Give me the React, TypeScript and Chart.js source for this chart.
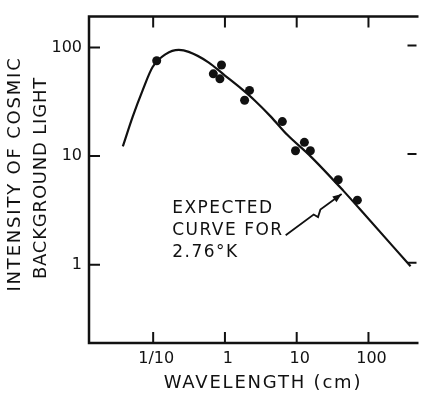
import React, { useEffect, useRef } from "react";
import { Chart, registerables } from "chart.js";

Chart.register(...registerables);

// Expected 2.76 K curve
const curveX = [0.0378, 0.0519, 0.0713, 0.0978, 0.15, 0.228, 0.313, 0.589, 1.0, 1.69, 2.58, 4.36, 7.39, 15.5, 44.5, 75.2, 386];
const curveY = [12.3, 23.1, 40.3, 65.8, 87, 95, 91.2, 73.1, 55.2, 41.8, 32.7, 23.1, 15.7, 10.0, 4.81, 3.27, 0.966];

// Measured points
const obsX = [0.112, 0.895, 0.689, 0.851, 2.2, 1.88, 6.31, 9.62, 12.8, 15.5, 37.9, 70];
const obsY = [75.5, 69, 57.2, 51.5, 40.3, 32.7, 20.8, 11.2, 13.4, 11.2, 6.05, 3.93];

const xTickValues = [0.1, 1, 10, 100];
const xTickLabels = ["1/10", "1", "10", "100"];
const yTickValues = [1, 10, 100];
const yTickLabels = ["1", "10", "100"];

const xMin = 0.01276;
const xMax = 467;
const yMin = 0.19;
const yMax = 192.7;

const xTitle = "WAVELENGTH (cm)";
const yTitleLines = ["INTENSITY OF COSMIC", "BACKGROUND LIGHT"];
const noteLines = ["EXPECTED", "CURVE FOR", "2.76°K"];
const noteAnchor = { x: 0.184, y: 3.0 };
const arrowFrom = { x: 7.02, y: 1.87 };
const arrowTo = { x: 42.3, y: 4.48 };

const INK = "#111";
const FONT = "'DejaVu Sans', sans-serif";

const decorPlugin = {
  id: "decor",
  afterDraw(chart: any) {
    const ctx = chart.ctx as CanvasRenderingContext2D;
    const { left, right, top, bottom } = chart.chartArea;
    const xs = chart.scales.x;
    const ys = chart.scales.y;
    ctx.save();
    ctx.strokeStyle = INK;
    ctx.fillStyle = INK;
    ctx.lineCap = "butt";

    // frame (left, top, bottom)
    ctx.lineWidth = 2.5;
    ctx.beginPath();
    ctx.moveTo(right + 2, top);
    ctx.lineTo(left, top);
    ctx.lineTo(left, bottom);
    ctx.lineTo(right + 2, bottom);
    ctx.stroke();

    // inner ticks
    ctx.lineWidth = 2;
    ctx.beginPath();
    for (const v of xTickValues) {
      const px = xs.getPixelForValue(v);
      ctx.moveTo(px, bottom);
      ctx.lineTo(px, bottom - 11);
      ctx.moveTo(px, top);
      ctx.lineTo(px, top + 11);
    }
    for (const v of yTickValues) {
      const py = ys.getPixelForValue(v);
      ctx.moveTo(left, py);
      ctx.lineTo(left + 11, py);
      ctx.moveTo(right, py - 2);
      ctx.lineTo(right - 9, py - 2);
    }
    ctx.stroke();

    // x title
    ctx.font = `18px ${FONT}`;
    (ctx as any).letterSpacing = "1.8px";
    ctx.textAlign = "center";
    ctx.textBaseline = "middle";
    ctx.fillText(xTitle, 263, 383);

    // y title (rotated)
    ctx.save();
    ctx.translate(15, 174);
    ctx.rotate(-Math.PI / 2);
    ctx.font = `18px ${FONT}`;
    (ctx as any).letterSpacing = "1.8px";
    ctx.fillText(yTitleLines[0], 0, 0);
    ctx.restore();
    ctx.save();
    ctx.translate(41, 178);
    ctx.rotate(-Math.PI / 2);
    ctx.font = `18px ${FONT}`;
    (ctx as any).letterSpacing = "0.8px";
    ctx.fillText(yTitleLines[1], 0, 0);
    ctx.restore();

    // annotation text
    const nx = xs.getPixelForValue(noteAnchor.x);
    const ny = ys.getPixelForValue(noteAnchor.y);
    ctx.font = `17px ${FONT}`;
    (ctx as any).letterSpacing = "1.5px";
    ctx.textAlign = "left";
    ctx.textBaseline = "alphabetic";
    noteLines.forEach((t, i) => ctx.fillText(t, nx, ny + i * 22));
    (ctx as any).letterSpacing = "0px";

    // wavy arrow
    const sx = xs.getPixelForValue(arrowFrom.x);
    const sy = ys.getPixelForValue(arrowFrom.y);
    const ex = xs.getPixelForValue(arrowTo.x);
    const ey = ys.getPixelForValue(arrowTo.y);
    const dx = ex - sx;
    const dy = ey - sy;
    const p1 = { x: sx + dx * 0.5, y: sy + dy * 0.5 };
    const p2 = { x: sx + dx * 0.56 + 1, y: sy + dy * 0.56 + 5 };
    const p3 = { x: sx + dx * 0.62, y: sy + dy * 0.62 };
    ctx.lineWidth = 1.8;
    ctx.beginPath();
    ctx.moveTo(sx, sy);
    ctx.lineTo(p1.x, p1.y);
    ctx.lineTo(p2.x, p2.y);
    ctx.lineTo(p3.x, p3.y);
    ctx.lineTo(ex, ey);
    ctx.stroke();
    const ang = Math.atan2(ey - p3.y, ex - p3.x);
    const L = 9;
    const W = 3.5;
    ctx.beginPath();
    ctx.moveTo(ex, ey);
    ctx.lineTo(ex - L * Math.cos(ang) + W * Math.sin(ang), ey - L * Math.sin(ang) - W * Math.cos(ang));
    ctx.lineTo(ex - L * Math.cos(ang) - W * Math.sin(ang), ey - L * Math.sin(ang) + W * Math.cos(ang));
    ctx.closePath();
    ctx.fill();

    ctx.restore();
  },
};

export default function App() {
  const ref = useRef<HTMLCanvasElement | null>(null);
  useEffect(() => {
    if (!ref.current) return;
    const chart = new Chart(ref.current, {
      type: "scatter",
      data: {
        datasets: [
          {
            type: "line",
            data: curveX.map((x, i) => ({ x, y: curveY[i] })),
            borderColor: INK,
            borderWidth: 2.2,
            pointRadius: 0,
            cubicInterpolationMode: "monotone",
            fill: false,
          } as any,
          {
            type: "scatter",
            data: obsX.map((x, i) => ({ x, y: obsY[i] })),
            backgroundColor: INK,
            borderWidth: 0,
            pointRadius: 4.5,
          },
        ],
      },
      options: {
        responsive: false,
        animation: false,
        events: [],
        layout: { padding: { top: 12, right: 0, left: 0, bottom: 0 } },
        plugins: { legend: { display: false }, tooltip: { enabled: false } },
        scales: {
          x: {
            type: "logarithmic",
            min: xMin,
            max: xMax,
            afterBuildTicks: (s: any) => {
              s.ticks = xTickValues.map((v) => ({ value: v }));
            },
            afterFit: (s: any) => {
              s.height = 52;
            },
            grid: { display: false, drawTicks: false },
            border: { display: false },
            ticks: {
              autoSkip: false,
              maxRotation: 0,
              padding: 6,
              labelOffset: 3,
              color: INK,
              font: { family: FONT, size: 16 },
              callback: (v: any) => {
                const i = xTickValues.findIndex((t) => Math.abs(t - v) / t < 1e-6);
                return i >= 0 ? xTickLabels[i] : "";
              },
            },
          },
          y: {
            type: "logarithmic",
            min: yMin,
            max: yMax,
            afterBuildTicks: (s: any) => {
              s.ticks = yTickValues.map((v) => ({ value: v }));
            },
            afterFit: (s: any) => {
              s.width = 89;
            },
            grid: { display: false, drawTicks: false },
            border: { display: false },
            ticks: {
              autoSkip: false,
              padding: 7,
              color: INK,
              font: { family: FONT, size: 16 },
              callback: (v: any) => {
                const i = yTickValues.findIndex((t) => Math.abs(t - v) / t < 1e-6);
                return i >= 0 ? yTickLabels[i] : "";
              },
            },
          },
        },
      },
      plugins: [decorPlugin],
    });
    return () => chart.destroy();
  }, []);
  return (
    <div style={{ position: "absolute", left: 0, top: 0, width: 421, height: 395, background: "#fff" }}>
      <canvas ref={ref} width={421} height={395} style={{ display: "block" }} />
    </div>
  );
}
